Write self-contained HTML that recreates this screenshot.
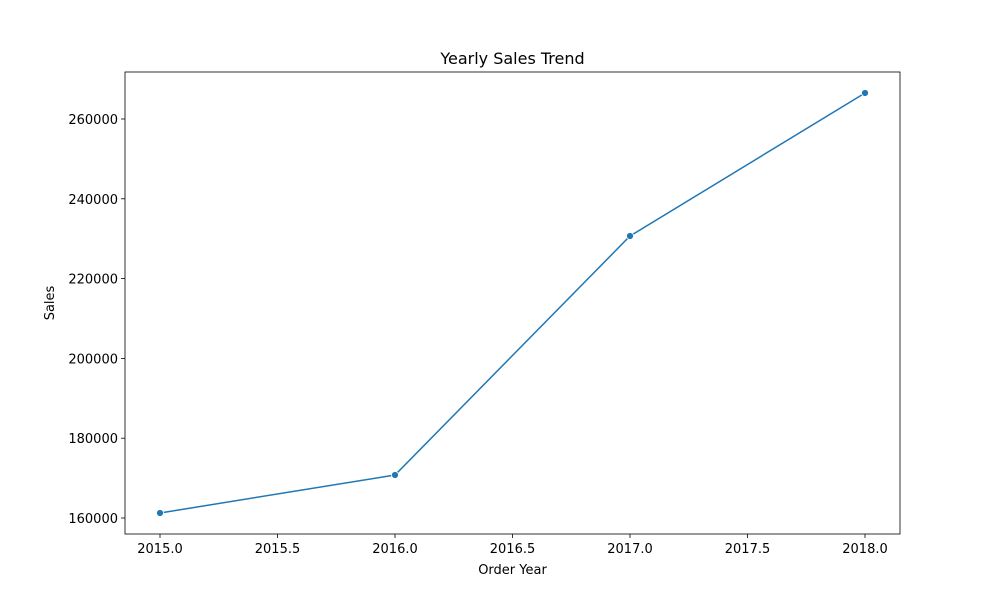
<!DOCTYPE html>
<html><head><meta charset="utf-8"><style>
body{margin:0;background:#fff;font-family:"Liberation Sans","DejaVu Sans",sans-serif;}
svg text{font-family:"DejaVu Sans","Liberation Sans",sans-serif;font-size:13px;fill:#000}
</style></head><body>
<svg id="chart" width="1000" height="600" xmlns="http://www.w3.org/2000/svg"></svg>
<script>
const years=[2015,2016,2017,2018];
const sales=[161253,170777,230676,266516];
const xTicks=[2015.0,2015.5,2016.0,2016.5,2017.0,2017.5,2018.0];
const yTicks=[160000,180000,200000,220000,240000,260000];
const NS="http://www.w3.org/2000/svg";
const svg=document.getElementById('chart');
const L=125,R=900,T=72,B=534;
const xs=v=>160+(v-2015)*235;
const ys=v=>518-(v-160000)*0.00399;
function mk(t,a,p){const e=document.createElementNS(NS,t);for(const k in a)e.setAttribute(k,a[k]);(p||svg).appendChild(e);return e;}
const title=mk('text',{x:512.5,y:64,'text-anchor':'middle',style:'font-size:16px'});title.textContent='Yearly Sales Trend';


xTicks.forEach(t=>{const g=mk('g',{});


mk('line',{x1:xs(t),x2:xs(t),y1:B,y2:B+4,stroke:'#000','stroke-width':0.8},g);
const tx=mk('text',{x:xs(t),y:B+19,'text-anchor':'middle'},g);tx.textContent=t.toFixed(1);});
yTicks.forEach(t=>{const g=mk('g',{});


mk('line',{x1:L-4,x2:L,y1:ys(t),y2:ys(t),stroke:'#000','stroke-width':0.8},g);
const tx=mk('text',{x:L-7,y:ys(t)+5,'text-anchor':'end'},g);tx.textContent=t;});
const xl=mk('text',{x:512.5,y:574,'text-anchor':'middle'});xl.textContent='Order Year';


const yl=mk('text',{x:0,y:0,'text-anchor':'middle',transform:'translate(54,303) rotate(-90)'});yl.textContent='Sales';


const line=mk('polyline',{points:years.map((y,i)=>xs(y)+','+ys(sales[i])).join(' '),fill:'none',stroke:'#1f77b4','stroke-width':1.5});


years.forEach((y,i)=>{const c=mk('circle',{cx:xs(y),cy:ys(sales[i]),r:3.5,fill:'#1f77b4',stroke:'#fff','stroke-width':0.8});

});
const fr=mk('rect',{x:L,y:T,width:R-L,height:B-T,fill:'none',stroke:'#000','stroke-width':0.8});


</script>
</body></html>
